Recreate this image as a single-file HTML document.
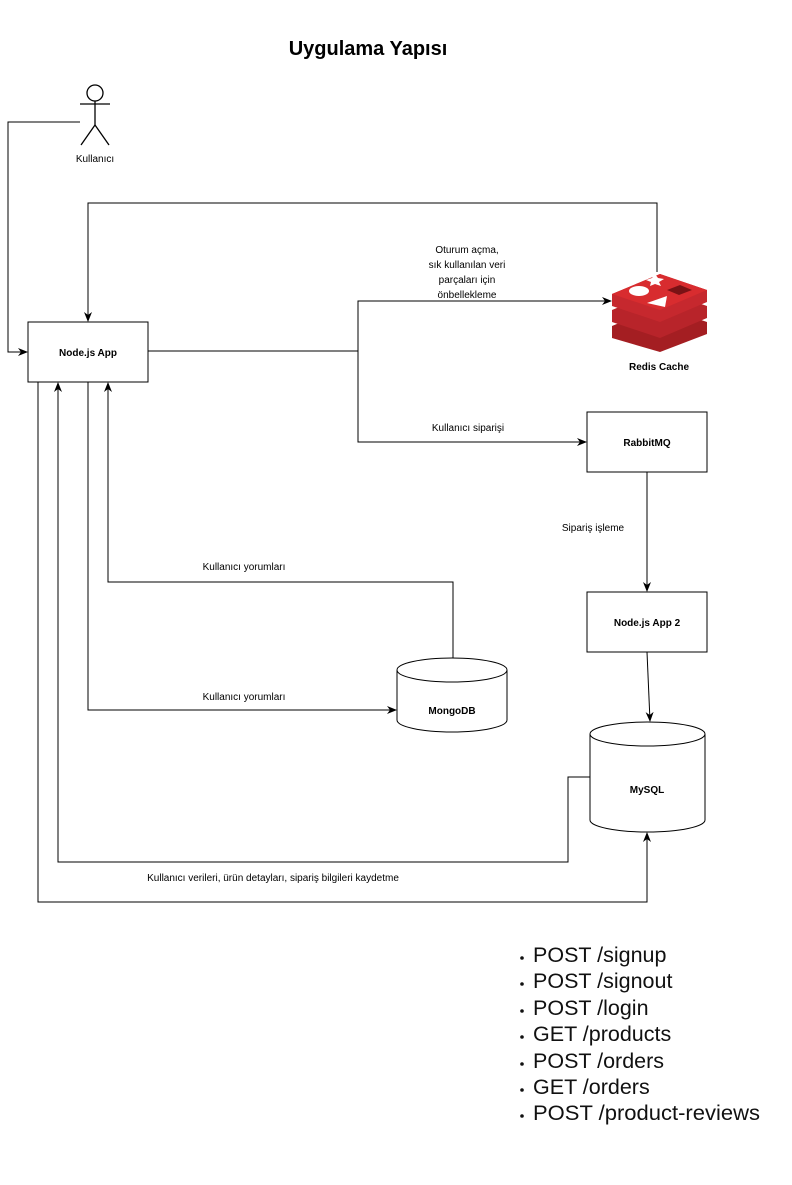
<!DOCTYPE html>
<html><head><meta charset="utf-8"><style>
body{margin:0;background:#fff;width:792px;height:1180px;overflow:hidden;font-family:"Liberation Sans",sans-serif}
</style></head><body>
<svg width="792" height="1180" xmlns="http://www.w3.org/2000/svg" font-family="Liberation Sans, sans-serif">
<defs><marker id="a" markerWidth="10" markerHeight="8" refX="9" refY="4" orient="auto" markerUnits="userSpaceOnUse"><path d="M0,0 L10,4 L0,8 L3,4 z" fill="#000"/></marker></defs>
<text x="368" y="55" font-size="20" font-weight="bold" text-anchor="middle">Uygulama Yapısı</text>
<g stroke="#000" fill="none" stroke-width="1.3">
<circle cx="95" cy="93" r="8" fill="#fff"/>
<line x1="95" y1="101" x2="95" y2="125"/><line x1="80" y1="104" x2="110" y2="104"/>
<line x1="95" y1="125" x2="81" y2="145"/><line x1="95" y1="125" x2="109" y2="145"/>
</g>
<text x="95" y="162" font-size="10" text-anchor="middle">Kullanıcı</text>
<g stroke="#000" fill="none" stroke-width="1">
<polyline points="80,122 8,122 8,352 27,352" marker-end="url(#a)"/>
<rect x="28" y="322" width="120" height="60" fill="#fff"/>
<polyline points="148,351 358,351 358,301 611,301" marker-end="url(#a)"/>
<polyline points="358,351 358,442 586,442" marker-end="url(#a)"/>
<polyline points="657,272 657,203 88,203 88,321" marker-end="url(#a)"/>
<rect x="587" y="412" width="120" height="60" fill="#fff"/>
<line x1="647" y1="472" x2="647" y2="591" marker-end="url(#a)"/>
<rect x="587" y="592" width="120" height="60" fill="#fff"/>
<line x1="647" y1="652" x2="650" y2="721" marker-end="url(#a)"/>
<polyline points="453,658 453,582 108,582 108,383" marker-end="url(#a)"/>
<polyline points="88,382 88,710 396,710" marker-end="url(#a)"/>
<polyline points="590,777 568,777 568,862 58,862 58,383" marker-end="url(#a)"/>
<polyline points="38,382 38,902 647,902 647,833" marker-end="url(#a)"/>
<path d="M397,670 A55,12 0 0 1 507,670 L507,720 A55,12 0 0 1 397,720 Z" fill="#fff"/>
<path d="M397,670 A55,12 0 0 0 507,670"/>
<path d="M590,734 A57.5,12 0 0 1 705,734 L705,820 A57.5,12 0 0 1 590,820 Z" fill="#fff"/>
<path d="M590,734 A57.5,12 0 0 0 705,734"/>
</g>
<g font-size="10" font-weight="bold" text-anchor="middle">
<text x="88" y="356">Node.js App</text>
<text x="647" y="446">RabbitMQ</text>
<text x="647" y="626">Node.js App 2</text>
<text x="452" y="714">MongoDB</text>
<text x="647" y="793">MySQL</text>
<text x="659" y="370">Redis Cache</text>
</g>
<g font-size="10" text-anchor="middle">
<text x="467" y="253">Oturum açma,</text>
<text x="467" y="268">sık kullanılan veri</text>
<text x="467" y="283">parçaları için</text>
<text x="467" y="298">önbellekleme</text>
<text x="468" y="431">Kullanıcı siparişi</text>
<text x="593" y="531">Sipariş işleme</text>
<text x="244" y="570">Kullanıcı yorumları</text>
<text x="244" y="700">Kullanıcı yorumları</text>
<text x="273" y="881">Kullanıcı verileri, ürün detayları, sipariş bilgileri kaydetme</text>
</g>
<g>
<path d="M612,326 L660,306 L707,322 L707,334 L660,352 L612,338 Z" fill="#a41e22"/>
<path d="M612,310 L660,290 L707,306 L707,318 L660,338 L612,322 Z" fill="#b8242a"/>
<path d="M612,294 L660,274 L707,290 L707,302 L660,322 L612,306 Z" fill="#c6282e"/>
<path d="M612,294 L660,274 L707,290 L660,310 Z" fill="#d82c2f"/>
<ellipse cx="639" cy="291" rx="10" ry="5" fill="#fff"/>
<path d="M646,280 L652,278 L655,274 L658,278 L664,279 L659,282 L661,286 L655,284 L650,286 L651,282 Z" fill="#fff"/>
<path d="M647,303 L667,296 L665,307 Z" fill="#fff"/>
<path d="M667,290 L680,285 L692,290 L679,295 Z" fill="#7a1215"/>
</g>
<g fill="#111">
<circle cx="522" cy="958" r="1.8"/><circle cx="522" cy="984" r="1.8"/><circle cx="522" cy="1011" r="1.8"/><circle cx="522" cy="1037" r="1.8"/><circle cx="522" cy="1064" r="1.8"/><circle cx="522" cy="1090" r="1.8"/><circle cx="522" cy="1116" r="1.8"/>
</g>
<g font-size="21.5" fill="#111">
<text x="533" y="962">POST /signup</text>
<text x="533" y="988">POST /signout</text>
<text x="533" y="1015">POST /login</text>
<text x="533" y="1041">GET /products</text>
<text x="533" y="1068">POST /orders</text>
<text x="533" y="1094">GET /orders</text>
<text x="533" y="1120" textLength="227" lengthAdjust="spacingAndGlyphs">POST /product-reviews</text>
</g>
</svg>
</body></html>
